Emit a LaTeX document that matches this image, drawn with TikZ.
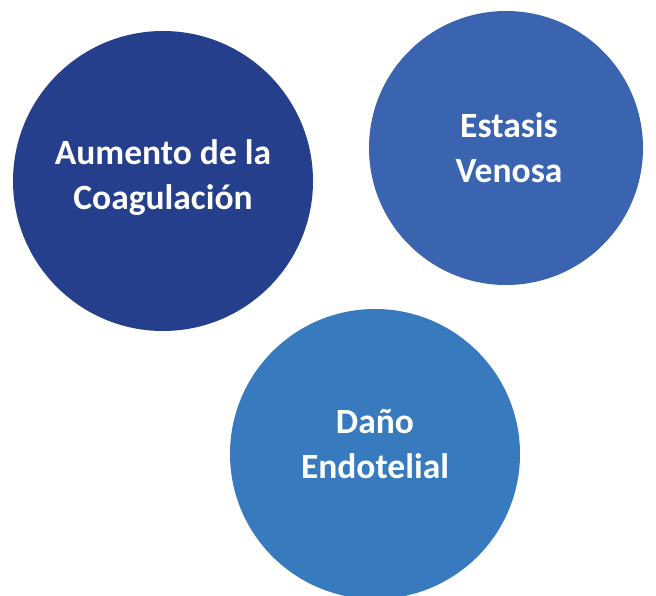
\documentclass[tikz,border=0pt]{standalone}
\usepackage{fontspec}
\setmainfont{Carlito}
\usepackage{tikz}
\definecolor{coagblue}{RGB}{38,63,141}
\definecolor{establue}{RGB}{58,100,175}
\definecolor{danoblue}{RGB}{55,122,190}

\begin{document}
\begin{tikzpicture}[
      x=1pt,y=-1pt,
      circ/.style={circle,draw=none,inner sep=0pt},
      txt/.style={align=center,text=white,inner sep=0pt,
        font=\fontsize{35.5}{45}\selectfont\bfseries}
    ]
    \useasboundingbox (0,0) rectangle (656,595);
    \node[circ,fill=coagblue,minimum size=300pt,
      label={[txt,yshift=3pt]center:Aumento de la\\Coagulación}] (coag) at (163,181) {};
    \node[circ,fill=establue,minimum size=274pt,
      label={[txt,xshift=3pt]center:Estasis\\Venosa}] (estasis) at (506,148) {};
    \node[circ,fill=danoblue,minimum size=290pt,
      label={[txt,yshift=10pt]center:Daño\\Endotelial}] (dano) at (375,454) {};
  \end{tikzpicture}
\end{document}
